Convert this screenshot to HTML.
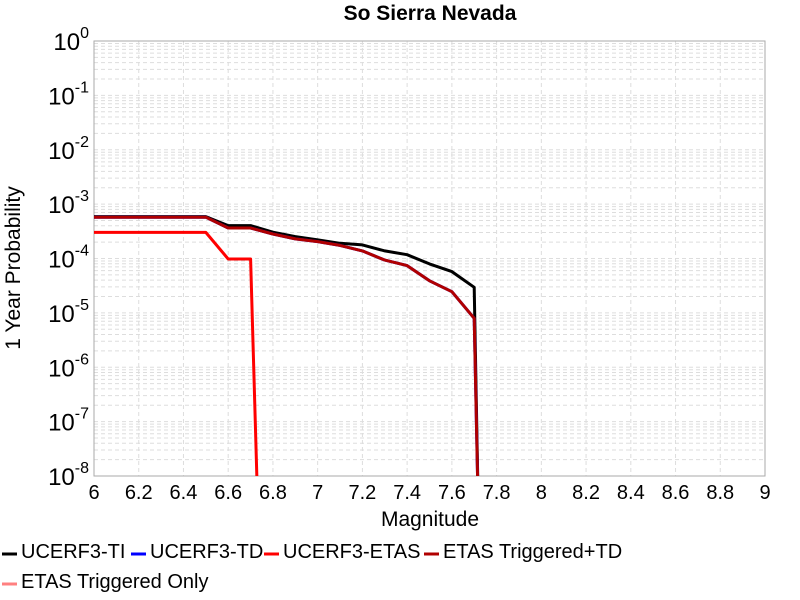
<!DOCTYPE html>
<html><head><meta charset="utf-8"><style>
body{margin:0;background:#fff;}
svg{display:block;font-family:"Liberation Sans",sans-serif;}
</style></head><body>
<svg id="chart" width="800" height="600">
<text x="430" y="20" text-anchor="middle" font-size="21" font-weight="bold">So Sierra Nevada</text>
<g id="grid"></g>
<rect x="94" y="41" width="671" height="435" fill="none" stroke="#aaa" stroke-width="1"/>
<g id="ticks"></g>
<defs><clipPath id="clip"><rect x="94" y="41" width="671" height="435"/></clipPath></defs>
<g id="series" clip-path="url(#clip)"></g>
<text x="430" y="526" text-anchor="middle" font-size="21">Magnitude</text>
<text transform="translate(20,268) rotate(-90)" text-anchor="middle" font-size="21">1 Year Probability</text>
<g id="legend"></g>
</svg>
<script>
const mags = [6.0,6.1,6.2,6.3,6.4,6.5,6.6,6.7,6.8,6.9,7.0,7.1,7.2,7.3,7.4,7.5,7.6,7.7,7.72];
const tiLog = [-3.23,-3.23,-3.23,-3.23,-3.23,-3.23,-3.395,-3.395,-3.517,-3.597,-3.658,-3.72,-3.75,-3.86,-3.93,-4.10,-4.24,-4.53,-9];
const tdLog = [-3.24,-3.24,-3.24,-3.24,-3.24,-3.24,-3.44,-3.44,-3.55,-3.64,-3.69,-3.76,-3.86,-4.03,-4.13,-4.41,-4.61,-5.10,-9];
const etasMags = [6.0,6.1,6.2,6.3,6.4,6.5,6.6,6.7,6.735];
const etasLog = [-3.52,-3.52,-3.52,-3.52,-3.52,-3.52,-4.01,-4.01,-9];
const xTicks = ["6","6.2","6.4","6.6","6.8","7","7.2","7.4","7.6","7.8","8","8.2","8.4","8.6","8.8","9"];
const yDecades = [0,-1,-2,-3,-4,-5,-6,-7,-8];
const legendNames = ["UCERF3-TI","UCERF3-TD","UCERF3-ETAS","ETAS Triggered+TD","ETAS Triggered Only"];
const legendColors = ["#000","#0000ff","#ff0000","#b00000","#ff8080"];

const NS="http://www.w3.org/2000/svg";
const X0=94,X1=765,Y0=41,Y1=476;
const xs=m=>X0+(m-6)/3*(X1-X0);
const ys=l=>Y0+(0-l)/8*(Y1-Y0);
function mk(t,a,p){const e=document.createElementNS(NS,t);for(const k in a)e.setAttribute(k,a[k]);p.appendChild(e);return e;}
const grid=document.getElementById('grid'),ticks=document.getElementById('ticks');
xTicks.forEach(t=>{const v=parseFloat(t),x=xs(v);
 if(v>6&&v<9){const l=mk('line',{x1:x,x2:x,y1:Y0,y2:Y1,stroke:'#ddd','stroke-dasharray':'4,3'},grid);
 
 }
 const tx=mk('text',{x:x,y:499,'text-anchor':'middle','font-size':'20'},ticks);tx.textContent=t;
 
 
});
yDecades.forEach(d=>{
 if(d>-8)for(let k=1;k<=9;k++){const y=ys(d-1+Math.log10(k));if(y<=Y0+0.5)continue;
  const l=mk('line',{x1:X0,x2:X1,y1:y,y2:y,stroke:'#ddd','stroke-dasharray':'4,3'},grid);
  
  }
 const y=ys(d);
 const tx=mk('text',{x:89,y:y+9,'text-anchor':'end','font-size':'24'},ticks);
 
 
 tx.textContent='10';
 const sp=mk('tspan',{dy:-12,'font-size':'16'},tx);sp.textContent=String(d);
});
const ser=document.getElementById('series');
function line(mx,ly,col,name){const p=mx.map((m,i)=>xs(m).toFixed(1)+','+ys(ly[i]).toFixed(1)).join(' ');
 const e=mk('polyline',{points:p,fill:'none',stroke:col,'stroke-width':3,'stroke-linejoin':'round'},ser);
 
 }
line(mags,tiLog,'#000','series-ucerf3-ti');
line(mags,tdLog,'#0000ff','series-ucerf3-td');
line(etasMags,etasLog,'#ff0000','series-ucerf3-etas');
line(mags,tdLog,'#b00000','series-etas-triggered-td');
const lg=document.getElementById('legend');
const lx=[2,131,264,424,2],ly=[558,558,558,558,588];
legendNames.forEach((n,i)=>{
 const g=mk('g',{},lg);
 
 
 mk('line',{x1:lx[i],x2:lx[i]+15,y1:ly[i]-4,y2:ly[i]-4,stroke:legendColors[i],'stroke-width':3},g);
 const t=mk('text',{x:lx[i]+19,y:ly[i],'font-size':'20'},g);t.textContent=n;
});
</script>
</body></html>
